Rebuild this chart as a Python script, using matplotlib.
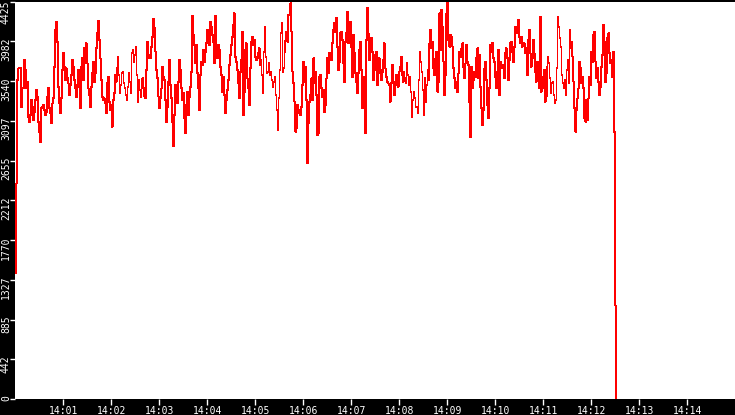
import matplotlib
matplotlib.use("Agg")
import matplotlib.pyplot as plt
import matplotlib.dates as mdates
import matplotlib.transforms as mtransforms
import numpy as np

# valores (muestras cada ~1.25 s desde las 14:00:00)
inicio = [1400, 2400]
tramo_a = [3552, 3682, 3682, 3682, 3255, 3460, 3460, 3775, 3664, 3460, 3534, 3144, 3088, 3162, 3330,
           3255, 3107, 3200, 3330, 3448, 3367, 3088, 2977, 2865, 3237, 3255, 3274, 3218, 3162, 3200,
           3367, 3460, 3237, 3181, 3069, 3292, 3348, 3701, 4110, 4203, 3980, 3478, 3292, 3181, 3348,
           3664, 3850, 3701, 3552, 3682, 3571, 3515, 3385, 3497, 3608, 3775, 3701, 3552, 3460, 3367,
           3497, 3664, 3478, 3237, 3701, 3794, 3552, 3905, 3738, 3961, 3738, 3460, 3385, 3255, 3478,
           3627, 3757, 3534, 3627, 3905, 4072, 4214, 3998, 3794, 3552, 3367, 3330, 3348, 3292, 3181,
           3515, 3590, 3311, 3218, 3274, 3032, 3330, 3404, 3608, 3534, 3682]
tramo_b = [3812, 3608, 3404, 3497, 3627, 3645, 3515, 3460, 3385, 3330, 3478, 3627, 3534, 3404, 3850,
           3887, 3757, 3831, 3924, 3608, 3311, 3552, 3441, 3367, 3460, 3571, 3460, 3367, 3348, 3664,
           3980, 3794, 3831, 3794, 3924, 4035, 4232, 4128, 3868, 3664, 3571, 3367, 3237, 3348, 3460,
           3701, 3590, 3552, 3330, 3088, 3255, 3534, 3775, 3497, 3348, 3088, 2821, 3162, 3497, 3311,
           3292, 3534, 3775, 3664, 3460, 3330, 3404, 3125, 2958, 3274, 3422, 3162, 3367, 3478, 3645,
           4266, 4054, 3942, 3738, 3942, 3627, 3460, 3218, 3608, 3757, 3720, 3887, 3757, 3868, 3961,
           4110, 4072, 3942, 4203, 4147, 4054, 3980, 3738, 4266, 3887, 3794, 3942]
tramo_c = [3887, 3701, 3608, 3422, 3590, 3385, 3181, 3330, 3441, 3552, 3720, 3831, 3942, 4035, 4165,
           4295, 3812, 3757, 3664, 3515, 3348, 3645, 3775, 4091, 3162, 3422, 3887, 3961, 3571, 3460,
           3274, 3682, 3980, 4035, 3942, 3998, 3812, 3775, 3794, 3850, 3905, 3720, 3775, 3608, 3404,
           3868, 4147, 3812, 3627, 3645, 3738, 3608, 3645, 3552, 3478, 3534, 3590, 3385, 3218, 2995,
           3348, 3664, 4072, 4184, 3645, 3682, 3868, 3998, 4091, 3980, 4277, 4277, 4407, 4091, 3645,
           3515, 3311, 2977, 3014, 3274, 3218, 3181, 3162, 3255, 3497, 3757, 3534, 3701, 3330, 2624,
           3069, 3311, 3385, 3571, 3330, 3794, 3515, 3645, 3385, 2939]
tramo_d = [2958, 3590, 3608, 3460, 3367, 3441, 3200, 3274, 3571, 3794, 3627, 3850, 3812, 3775, 3961,
           4110, 4184, 4091, 4240, 3924, 3664, 3757, 4072, 4091, 3998, 3738, 3534, 3980, 4072, 4314,
           3961, 4035, 4203, 3924, 3590, 4054, 3850, 3627, 3534, 3404, 3627, 3887, 3980, 3664, 3237,
           3590, 3497, 2958, 3998, 4351, 4072, 3775, 3998, 4017, 3868, 3552, 3664, 3831, 3868, 3497,
           3627, 3794, 3664, 3552, 3645, 3775, 3961, 3682, 3590, 3534, 3515, 3497, 3311, 3515, 3720,
           3534, 3385, 3497, 3608, 3534, 3478, 3645, 3701, 3812, 3608, 3534, 3645, 3571, 3515, 3738,
           3608, 3497, 3590, 3422, 3144, 3330, 3422, 3348, 3255, 3255]
tramo_e = [3181, 3552, 3868, 3757, 3645, 3441, 3162, 3571, 3311, 3497, 3664, 3552, 3961, 4110, 3905,
           3980, 3682, 3608, 3794, 3868, 3422, 3534, 4295, 3887, 4333, 4147, 3757, 3385, 3608, 4295,
           4425, 3998, 3924, 4054, 4035, 3924, 3682, 3571, 3460, 3534, 3422, 3627, 3868, 3812, 3905,
           3961, 3701, 3571, 3738, 3942, 3757, 3720, 3311, 2921, 3701, 3460, 3552, 3645, 3590, 3794,
           3905, 3571, 3831, 3478, 3237, 3051, 3218, 3682, 3757, 3552, 3274, 3125, 3460, 3942, 3868,
           3961, 3794, 3757, 3590, 3460, 3645, 3887, 3385, 3757, 3682, 3701, 3720, 3571, 3850, 3905,
           3794, 3552, 3775, 3961, 3980, 3868, 3757, 3924, 4147, 4072]
tramo_f = [4110, 4221, 4035, 3961, 4035, 3924, 3942, 3961, 3850, 3905, 3608, 3998, 4110, 3850, 3701,
           3794, 3998, 3850, 3645, 3534, 3757, 3645, 3460, 4258, 3422, 3590, 3460, 3664, 3311, 3367,
           3701, 3812, 3738, 3571, 3404, 3515, 3534, 3385, 3292, 3330, 3682, 4258, 4147, 4017, 3924,
           3608, 3515, 3460, 3552, 3385, 3664, 3775, 3515, 4110, 3905, 3980, 3812, 3534, 3237, 2977,
           3218, 3348, 3460, 3757, 3682, 3515, 3590, 3460, 3125, 3088, 3330, 3107, 3348, 3590, 3497,
           3868, 3757, 4054, 4091, 3757, 3571, 3682, 3534, 3385, 3478, 3701, 3831, 4165, 3980, 3534,
           3627, 4017, 4072, 3850, 3738, 3775, 3590, 3868]
final = [2972, 1040, 0]

valores = np.array(inicio + tramo_a + tramo_b + tramo_c + tramo_d + tramo_e + tramo_f + final)

t0 = np.datetime64("2024-01-01T14:00:00")
t_fin = np.datetime64("2024-01-01T14:12:31")
t_max = np.datetime64("2024-01-01T14:15:00")
segundos = np.linspace(0, (t_fin - t0) / np.timedelta64(1, "s"), len(valores))
tiempos = t0 + (segundos * 1000).astype("timedelta64[ms]")

y_max = 4425
y_ticks = np.linspace(0, y_max, 11)
y_etiquetas = ["0", "442", "885", "1327", "1770", "2212", "2655", "3097", "3540", "3982", "4425"]
x_ticks = [np.datetime64("2024-01-01T14:%02d:00" % m) for m in range(1, 15)]

fuente = "DejaVu Sans Mono"

fig = plt.figure(figsize=(7.35, 4.15), dpi=100, facecolor="black")
ax = fig.add_axes([15.3 / 735, 16 / 415, 720 / 735, 397.3 / 415])
ax.set_facecolor("white")
for s in ax.spines.values():
    s.set_visible(False)

ax.plot(tiempos, valores, color="#ff0000", lw=0.6, drawstyle="steps-post", antialiased=False)

ax.set_xlim(t0, t_max)
ax.set_ylim(0, y_max)

ax.set_xticks(x_ticks)
ax.xaxis.set_major_formatter(mdates.DateFormatter("%H:%M"))
ax.tick_params(axis="x", colors="white", length=4, width=1, pad=1, labelsize=7)
for lab in ax.get_xticklabels():
    lab.set_family(fuente)

ax.set_yticks(y_ticks)
ax.set_yticklabels([])
ax.tick_params(axis="y", colors="white", length=3.6, width=1)

# etiquetas del eje y giradas, en la franja negra
mezcla = mtransforms.blended_transform_factory(fig.transFigure, ax.transData)
for v, txt in zip(y_ticks, y_etiquetas):
    sube = 1.5 if v == y_max else 4
    tr = mezcla + mtransforms.ScaledTranslation(0, sube / 100, fig.dpi_scale_trans)
    ax.text(11 / 735, v, txt, transform=tr, rotation=90, ha="right", va="top",
            color="white", fontsize=7, family=fuente, clip_on=False)

fig.savefig("out.png", dpi=100, facecolor="black")
